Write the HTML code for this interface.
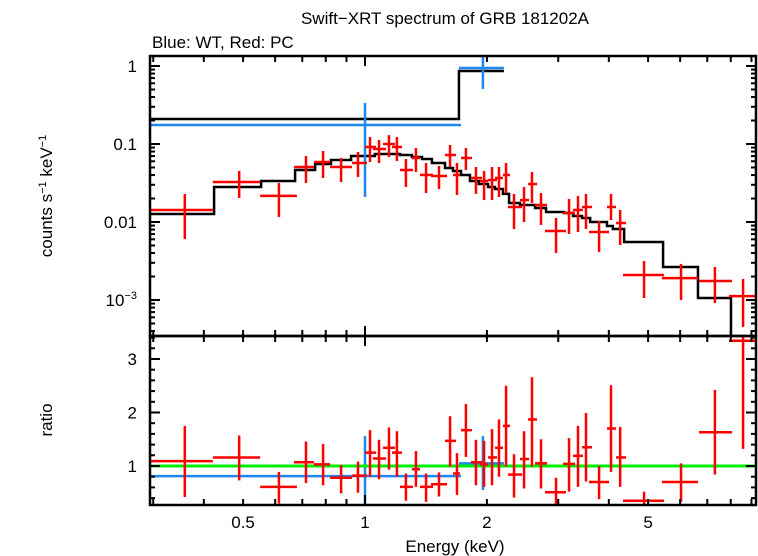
<!DOCTYPE html>
<html><head><meta charset="utf-8"><style>
html,body{margin:0;padding:0;background:#fff;}
svg{display:block;font-family:"Liberation Sans",sans-serif;}
</style></head><body>
<svg id="chart" width="758" height="556" viewBox="0 0 758 556" xmlns="http://www.w3.org/2000/svg">
<text x="445" y="24" font-size="17" text-anchor="middle">Swift−XRT spectrum of GRB 181202A</text>
<text x="152" y="48" font-size="17">Blue: WT, Red: PC</text>
<text transform="translate(52,196) rotate(-90)" font-size="17" text-anchor="middle">counts s<tspan font-size="11" dy="-6">−1</tspan><tspan dy="6"> keV</tspan><tspan font-size="11" dy="-6">−1</tspan></text>
<text transform="translate(52,420) rotate(-90)" font-size="17" text-anchor="middle">ratio</text>
<text x="455" y="552" font-size="17" text-anchor="middle">Energy (keV)</text>
<g id="marks"></g>
</svg>
<script>
// ---- data ----
const pcE   = [0.359,0.489,0.613,0.715,0.788,0.873,0.961,1.029,1.083,1.146,1.199,1.262,1.336,1.415,1.523,1.622,1.687,1.775,1.879,1.968,2.059,2.142,2.230,2.333,2.470,2.584,2.720,2.963,3.190,3.357,3.513,3.784,4.050,4.266,4.887,6.03,7.31,8.58];
const pcElo = [0.293,0.421,0.551,0.668,0.748,0.820,0.929,1.000,1.046,1.108,1.166,1.220,1.306,1.367,1.455,1.576,1.649,1.726,1.827,1.923,2.013,2.094,2.191,2.254,2.414,2.527,2.630,2.782,3.083,3.263,3.434,3.573,3.958,4.168,4.336,5.410,6.68,7.92];
const pcEhi = [0.421,0.551,0.679,0.748,0.820,0.929,1.011,1.065,1.127,1.186,1.234,1.314,1.367,1.472,1.594,1.678,1.716,1.837,1.945,2.013,2.118,2.191,2.281,2.442,2.541,2.659,2.815,3.135,3.301,3.453,3.635,4.004,4.168,4.411,5.475,6.64,8.06,9.29];
const pcFlux= [0.01426,0.0326,0.0216,0.0507,0.0588,0.0507,0.0571,0.0916,0.0863,0.1,0.0916,0.0464,0.0662,0.0401,0.0389,0.0723,0.0401,0.0662,0.0367,0.0336,0.0345,0.0367,0.0401,0.01557,0.0191,0.0307,0.0165,0.00767,0.01304,0.01426,0.01557,0.00745,0.01557,0.0097,0.00209,0.00191,0.00175,0.00112];
const pcFhi = [0.0229,0.0451,0.0316,0.0702,0.0813,0.0662,0.0789,0.123,0.1125,0.130,0.123,0.0642,0.0889,0.0571,0.0522,0.0971,0.0571,0.0889,0.0507,0.0451,0.0507,0.0507,0.0571,0.0229,0.0281,0.0438,0.0235,0.01125,0.0197,0.0216,0.0229,0.0103,0.0229,0.01426,0.00316,0.0029,0.00265,0.00186];
const pcFlo = [0.00605,0.0203,0.0116,0.0316,0.0367,0.0326,0.0377,0.0588,0.0571,0.0681,0.0605,0.0281,0.0438,0.0235,0.0265,0.0507,0.0222,0.0464,0.0229,0.0191,0.0191,0.0209,0.0235,0.00813,0.01,0.01754,0.00916,0.00401,0.00702,0.00745,0.00813,0.00412,0.0106,0.00507,0.00106,0.001,0.000916,0.000451];
const pcRatio   = [1.09,1.16,0.61,1.07,1.03,0.78,0.82,1.25,1.14,1.34,1.25,0.61,0.94,0.61,0.66,1.47,0.86,1.67,1.07,1.03,1.16,1.34,1.75,0.84,1.13,1.87,1.05,0.51,1.04,1.19,1.35,0.70,1.70,1.16,0.35,0.70,1.63,3.34];
const pcRatioHi = [1.75,1.57,0.89,1.46,1.41,1.02,1.08,1.67,1.49,1.72,1.65,0.86,1.28,0.86,0.88,1.93,1.24,2.16,1.49,1.47,1.69,1.87,2.50,1.22,1.65,2.66,1.50,0.78,1.52,1.75,1.99,1.00,2.51,1.73,0.52,1.05,2.42,3.42];
const pcRatioLo = [0.42,0.73,0.30,0.68,0.64,0.49,0.50,0.80,0.75,0.93,0.80,0.35,0.61,0.33,0.43,0.99,0.46,1.17,0.64,0.61,0.64,0.80,0.99,0.41,0.58,0.99,0.58,0.27,0.52,0.61,0.71,0.38,0.89,0.61,0.24,0.33,0.84,1.32];
const wtE = [1.0,1.955];
const wtElo = [0.294,1.706];
const wtEhi = [1.726,2.203];
const wtFlux = [0.175,0.943];
const wtFhi = [0.336,1.38];
const wtFlo = [0.0209,0.507];
const wtRatio = [0.81,1.05];
const wtRatioHi = [1.56,1.56];
const wtRatioLo = [0.2,0.55];
const pcModelEdges = [0.293,0.424,0.554,0.672,0.753,0.824,0.924,1.058,1.220,1.306,1.383,1.463,1.576,1.649,1.726,1.816,1.910,2.013,2.094,2.191,2.268,2.414,2.630,2.799,3.101,3.263,3.434,3.597,3.958,4.093,4.363,5.445,6.64,8.01,9.29];
const pcModelVals = [0.01267,0.0281,0.0336,0.0464,0.0554,0.0624,0.0702,0.0745,0.0723,0.0681,0.0642,0.0571,0.0492,0.0451,0.0401,0.0336,0.0307,0.0281,0.0265,0.0229,0.01754,0.0165,0.0151,0.01344,0.01304,0.01194,0.01125,0.01,0.00889,0.00813,0.00554,0.00265,0.00106,0.0001];
const wtModelEdges = [0.294,1.706,2.203];
const wtModelVals = [0.209,0.863];
const xTickVals = [0.5,1,2,5];
const xTickLabels = ["0.5","1","2","5"];
const yTopTickVals = [1,0.1,0.01];
const yTopTickLabels = ["1","0.1","0.01"];
const yBotTickVals = [1,2,3];
const yBotTickLabels = ["1","2","3"];

// ---- axes ----
const L=150,R=756,T=56,M=336,B=505;
const X0=365, XD=405;
function xs(e){return X0+XD*Math.log10(e);}
function yt(v){return 66-78*Math.log10(v);}
function yb(r){return 466-53.5*(r-1);}
const NS="http://www.w3.org/2000/svg";
const g=document.getElementById('marks');
function el(tag,attrs,parent){const e=document.createElementNS(NS,tag);for(const k in attrs)e.setAttribute(k,attrs[k]);(parent||g).appendChild(e);return e;}

const defs=el('defs',{});
const c1=el('clipPath',{id:'ct'},defs);el('rect',{x:L,y:T,width:R-L,height:M-T},c1);
const c2=el('clipPath',{id:'cb'},defs);el('rect',{x:L,y:M,width:R-L,height:B-M},c2);
const gt=el('g',{'clip-path':'url(#ct)'});


const gb=el('g',{'clip-path':'url(#cb)'});



function stepPath(edges,vals,yf){let d='';for(let i=0;i<vals.length;i++){const y=yf(vals[i]);d+=(i===0?'M':'L')+xs(edges[i])+','+y+'L'+xs(edges[i+1])+','+y;}return d;}
const m1=el('path',{d:stepPath(pcModelEdges,pcModelVals,yt),fill:'none',stroke:'#000','stroke-width':2.5},gt);


const m2=el('path',{d:stepPath(wtModelEdges,wtModelVals,yt),fill:'none',stroke:'#000','stroke-width':2.5},gt);



function cross(parent,e,elo,ehi,yc,ylo,yhi,color,name){
  const gg=el('g',{stroke:color,'stroke-width':2.5},parent);
  
  
  el('line',{x1:xs(elo),x2:xs(ehi),y1:yc,y2:yc},gg);
  el('line',{x1:xs(e),x2:xs(e),y1:ylo,y2:yhi},gg);
}
for(let i=0;i<wtE.length;i++){
  cross(gt,wtE[i],wtElo[i],wtEhi[i],yt(wtFlux[i]),yt(wtFlo[i]),yt(wtFhi[i]),'#1e88f0','wt-data-point');
  cross(gb,wtE[i],wtElo[i],wtEhi[i],yb(wtRatio[i]),yb(wtRatioLo[i]),yb(wtRatioHi[i]),'#1e88f0','wt-ratio-point');
}
const gl=el('line',{x1:L,x2:R,y1:yb(1),y2:yb(1),stroke:'#00ee00','stroke-width':3},gb);


for(let i=0;i<pcE.length;i++){
  cross(gt,pcE[i],pcElo[i],pcEhi[i],yt(pcFlux[i]),yt(pcFlo[i]),yt(pcFhi[i]),'#ff0000','pc-data-point');
  cross(gb,pcE[i],pcElo[i],pcEhi[i],yb(pcRatio[i]),yb(pcRatioLo[i]),yb(pcRatioHi[i]),'#ff0000','pc-ratio-point');
}

const f1=el('rect',{x:L,y:T,width:R-L,height:M-T,fill:'none',stroke:'#000','stroke-width':2.5});


const f2=el('rect',{x:L,y:M,width:R-L,height:B-M,fill:'none',stroke:'#000','stroke-width':2.5});



const tg=el('g',{stroke:'#000','stroke-width':2});


const tickE=[0.3,0.4,0.5,0.6,0.7,0.8,0.9,1,2,3,4,5,6,7,8,9];
tickE.forEach(v=>{const x=xs(v);if(x<L+2||x>R-2)return;const len=(v===1)?10:6;
  [T,M].forEach(y0=>el('line',{x1:x,x2:x,y1:y0,y2:y0+len},tg));
  [M,B].forEach(y0=>el('line',{x1:x,x2:x,y1:y0,y2:y0-len},tg));
});
for(let p=-4;p<=0;p++){for(let k=1;k<10;k++){const v=k*Math.pow(10,p);const y=yt(v);if(y<T+1||y>M-1)continue;const len=k===1?10:5;
  el('line',{x1:L,x2:L+len,y1:y,y2:y},tg);el('line',{x1:R,x2:R-len,y1:y,y2:y},tg);}}
for(let r=0.4;r<=3.41;r+=0.2){const y=yb(r);if(y<M+1||y>B-1)continue;const maj=Math.abs(r-Math.round(r))<0.01;const len=maj?10:5;
  el('line',{x1:L,x2:L+len,y1:y,y2:y},tg);el('line',{x1:R,x2:R-len,y1:y,y2:y},tg);}

xTickVals.forEach((v,i)=>{const t=el('text',{x:xs(v),y:528,'font-size':17,'text-anchor':'middle'});t.textContent=xTickLabels[i];
  
  });
yTopTickVals.forEach((v,i)=>{const t=el('text',{x:137,y:yt(v)+6,'font-size':17,'text-anchor':'end'});t.textContent=yTopTickLabels[i];
  
  });
const t3=el('text',{x:137,y:yt(0.001)+6,'font-size':17,'text-anchor':'end'});


t3.innerHTML='10<tspan font-size="11" dy="-7">−3</tspan>';
yBotTickVals.forEach((v,i)=>{const t=el('text',{x:137,y:yb(v)+6,'font-size':17,'text-anchor':'end'});t.textContent=yBotTickLabels[i];
  
  });
</script>
</body></html>
